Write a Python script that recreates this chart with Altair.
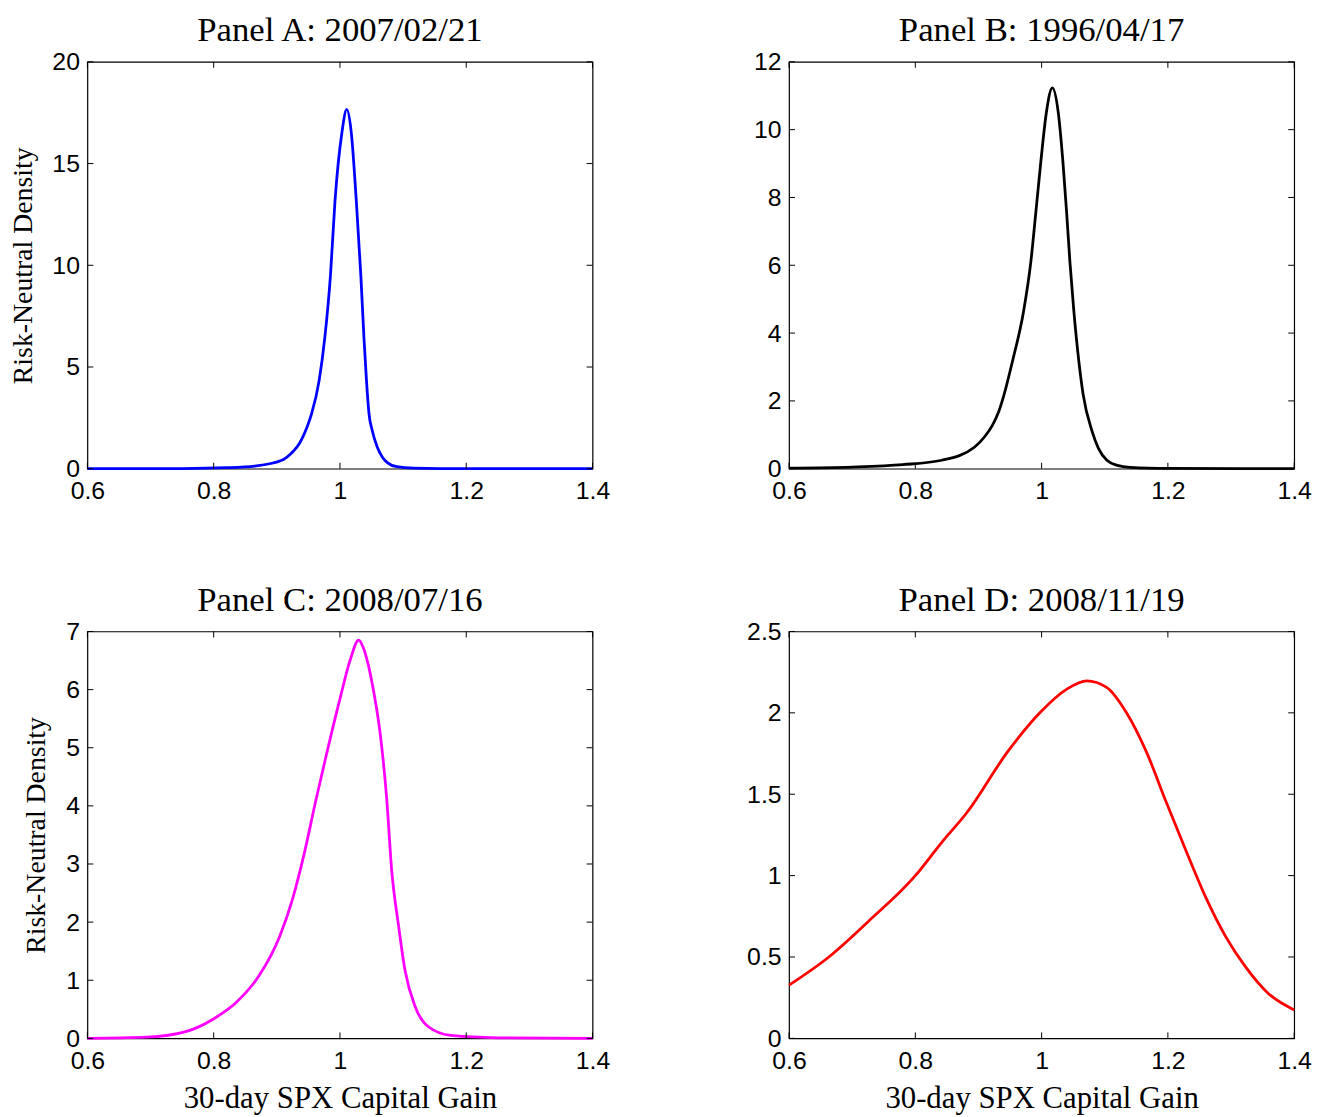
import altair as alt
import pandas as pd

titles = ["Panel A: 2007/02/21", "Panel B: 1996/04/17", "Panel C: 2008/07/16", "Panel D: 2008/11/19"]
colors = ["#0000ff", "#000000", "#ff00ff", "#ff0000"]

gain_a = [0.60, 0.75, 0.82, 0.865, 0.907, 0.915, 0.925, 0.930, 0.936, 0.941, 0.946, 0.950, 0.955,
          0.967, 0.976, 0.985, 0.992, 1.003, 1.0107, 1.018, 1.026, 1.033, 1.038, 1.042, 1.046,
          1.051, 1.059, 1.067, 1.075, 1.09, 1.117, 1.2, 1.4]
dens_a = [0.0, 0.01, 0.05, 0.13, 0.40, 0.55, 0.82, 1.0, 1.25, 1.55, 1.9, 2.23, 2.7,
          4.33, 6.44, 9.53, 13.1, 16.5, 17.66, 16.5, 13.1, 9.53, 6.44, 4.33, 2.70,
          1.89, 1.07, 0.58, 0.30, 0.10, 0.03, 0.0, 0.0]

gain_b = [0.60, 0.70, 0.78, 0.842, 0.894, 0.910, 0.922, 0.932, 0.940, 0.954, 0.9714, 0.983, 0.9909,
          0.9987, 1.0075, 1.017, 1.0264, 1.0338, 1.0396, 1.0448, 1.0511, 1.0589, 1.0657, 1.080, 1.09,
          1.1034, 1.12, 1.14, 1.2, 1.4]
dens_b = [0.02, 0.05, 0.12, 0.25, 0.64, 0.95, 1.28, 1.68, 2.15, 3.18, 4.64, 6.11, 7.57,
          9.04, 10.50, 11.23, 10.50, 9.04, 7.57, 6.11, 4.64, 3.18, 2.20, 1.10, 0.60,
          0.25, 0.10, 0.04, 0.01, 0.0]

gain_c = [0.60, 0.694, 0.757, 0.799, 0.836, 0.872, 0.904, 0.925, 0.943, 0.9615, 0.977, 1.0, 1.0165,
          1.0296, 1.037, 1.0443, 1.0516, 1.0636, 1.074, 1.082, 1.0924, 1.103, 1.119, 1.140, 1.176,
          1.25, 1.4]
dens_c = [0.0, 0.02, 0.12, 0.33, 0.62, 1.08, 1.74, 2.40, 3.16, 4.08, 4.81, 5.84, 6.52,
          6.85, 6.72, 6.45, 6.07, 5.25, 4.13, 2.88, 1.97, 1.17, 0.55, 0.2, 0.05,
          0.01, 0.0]

gain_d = [0.60, 0.663, 0.726, 0.799, 0.841, 0.883, 0.946, 0.998, 1.04, 1.0715, 1.103, 1.134, 1.166,
          1.197, 1.229, 1.26, 1.292, 1.323, 1.359, 1.4]
dens_d = [0.327, 0.50, 0.72, 0.995, 1.2, 1.394, 1.76, 2.004, 2.146, 2.197, 2.157, 2.004, 1.76,
          1.455, 1.15, 0.866, 0.622, 0.439, 0.276, 0.175]

x_ticks = [0.6, 0.8, 1.0, 1.2, 1.4]
y_ticks_a = [0, 5, 10, 15, 20]
y_ticks_b = [0, 2, 4, 6, 8, 10, 12]
y_ticks_c = [0, 1, 2, 3, 4, 5, 6, 7]
y_ticks_d = [0, 0.5, 1, 1.5, 2, 2.5]
y_max = [20, 12, 7, 2.5]

x_label = "30-day SPX Capital Gain"
y_label = "Risk-Neutral Density"

W, H = 509, 410
TICK = 6
SANS = "Liberation Sans"
SERIF = "Liberation Serif"


def panel(i, gain, dens, yticks, ymax, show_y, show_x):
    df = pd.DataFrame({"gain": gain, "density": dens})
    xscale = alt.Scale(domain=[0.6, 1.4], nice=False, zero=False)
    yscale = alt.Scale(domain=[0, ymax], nice=False, zero=True)
    xaxis = alt.Axis(values=x_ticks, format="~g", ticks=False, domain=False, grid=False,
                     labelFont=SANS, labelFontSize=25, labelColor="black", labelPadding=10,
                     labelFlush=False,
                     titleFont=SERIF, titleFontSize=31, titleFontWeight="normal",
                     titleColor="black", titlePadding=11)
    yaxis = alt.Axis(values=yticks, format="~g", ticks=False, domain=False, grid=False,
                     labelFont=SANS, labelFontSize=25, labelColor="black", labelPadding=8,
                     labelFlush=False,
                     titleFont=SERIF, titleFontSize=28, titleFontWeight="normal",
                     titleColor="black", titlePadding=15)
    xenc = alt.X("gain:Q", scale=xscale, axis=xaxis, title=x_label if show_x else "")
    yenc = alt.Y("density:Q", scale=yscale, axis=yaxis, title=y_label if show_y else "")
    line = alt.Chart(df).mark_line(color=colors[i], strokeWidth=2.8, interpolate="monotone").encode(
        x=xenc, y=yenc)
    xt = pd.DataFrame({"gain": x_ticks})
    yt = pd.DataFrame({"density": yticks})
    rule = dict(color="black", strokeWidth=1)
    bottom = alt.Chart(xt).mark_rule(**rule).encode(
        x=alt.X("gain:Q"), y=alt.value(H), y2=alt.value(H - TICK))
    top = alt.Chart(xt).mark_rule(**rule).encode(
        x=alt.X("gain:Q"), y=alt.value(0), y2=alt.value(TICK))
    left = alt.Chart(yt).mark_rule(**rule).encode(
        y=alt.Y("density:Q"), x=alt.value(0), x2=alt.value(TICK))
    right = alt.Chart(yt).mark_rule(**rule).encode(
        y=alt.Y("density:Q"), x=alt.value(W), x2=alt.value(W - TICK))
    return alt.layer(line, bottom, top, left, right).properties(
        width=W, height=H,
        title=alt.TitleParams(titles[i], font=SERIF, fontSize=35, fontWeight="normal",
                              color="black", offset=2),
    )


pA = panel(0, gain_a, dens_a, y_ticks_a, y_max[0], True, False)
pB = panel(1, gain_b, dens_b, y_ticks_b, y_max[1], False, False)
pC = panel(2, gain_c, dens_c, y_ticks_c, y_max[2], True, True)
pD = panel(3, gain_d, dens_d, y_ticks_d, y_max[3], False, True)

chart = alt.concat(pA, pB, pC, pD, columns=2, spacing={"row": 78, "column": 136}).properties(
    padding={"left": 0, "top": 0, "right": 5, "bottom": 0}
).configure(
    background="white"
).configure_view(stroke="black", strokeWidth=1.2)

chart.save("out.html", embed_options={"renderer": "svg", "actions": False})
